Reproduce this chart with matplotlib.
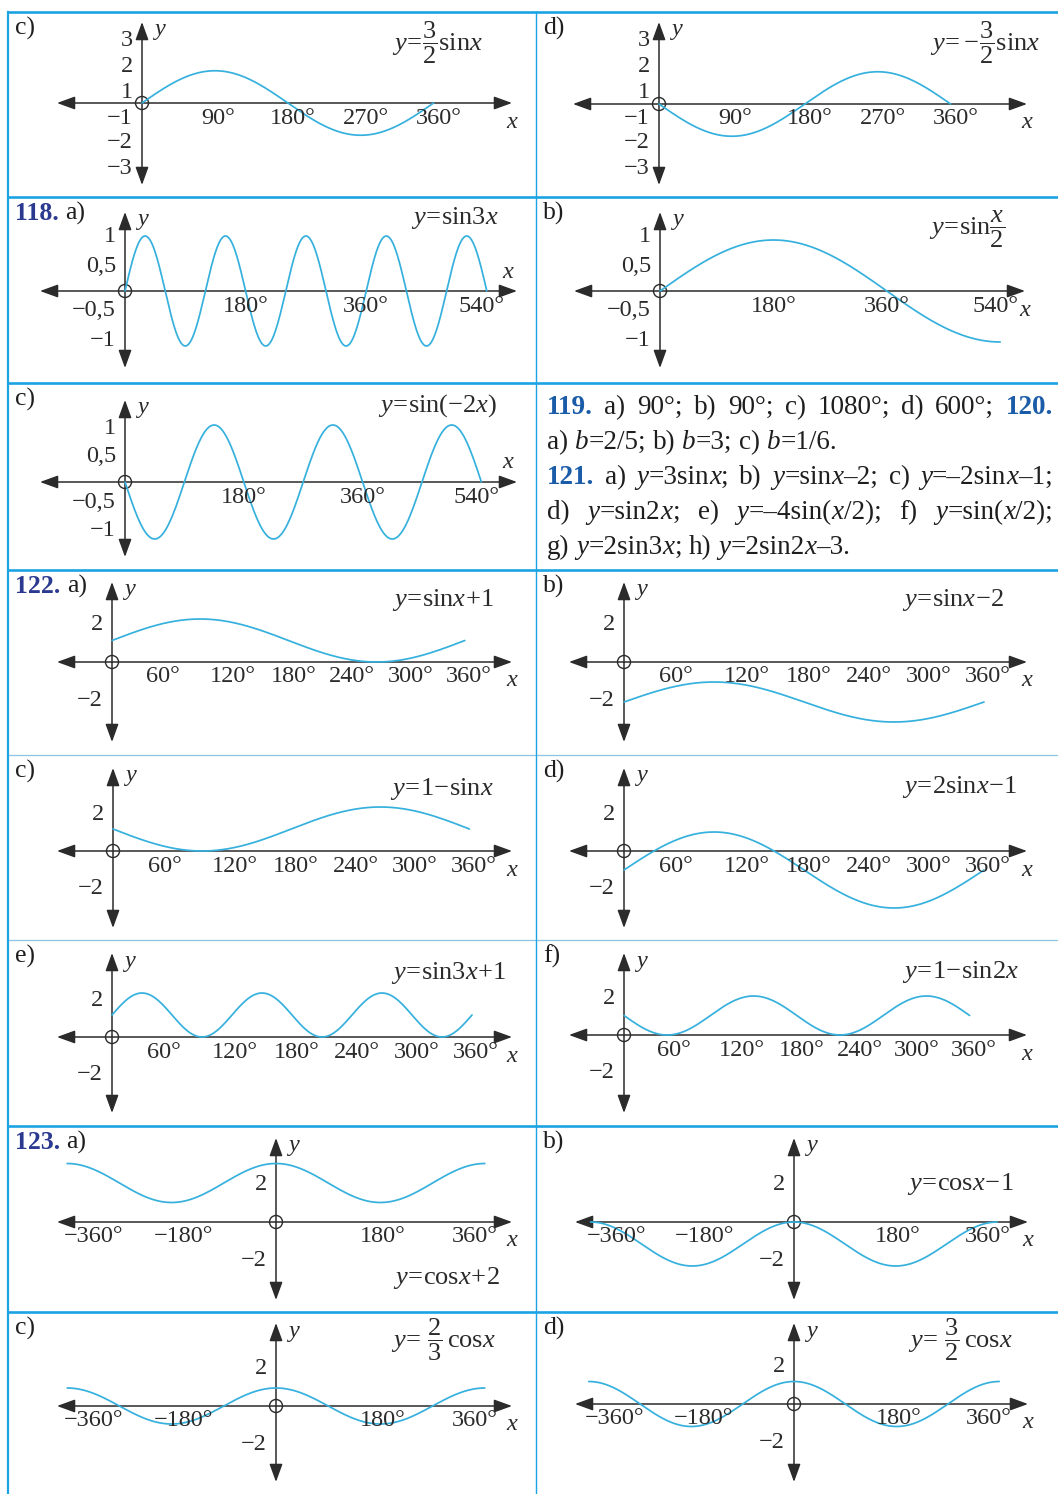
import numpy as np
import matplotlib.pyplot as plt
from matplotlib import transforms as mtransforms
from matplotlib.patches import Circle

plt.rcParams['font.family'] = ['Liberation Serif', 'DejaVu Serif']
plt.rcParams['mathtext.fontset'] = 'custom'
plt.rcParams['mathtext.rm'] = 'Liberation Serif'
plt.rcParams['mathtext.it'] = 'Liberation Serif:italic'
plt.rcParams['mathtext.bf'] = 'Liberation Serif:bold'

W, H = 1058, 1494
BLUE = '#1ca3e2'
THIN = '#8cc4e6'
CURVE = '#36b0dd'
INK = '#2b2b2b'
NAVY = '#2b3990'
TEXT_BLUE = '#1a5ca8'

# ---- data: one entry per graph, left to right, top to bottom ----
numbers = ["", "", "118.", "", "", "122.", "", "", "", "", "", "123.", "", "", ""]
letters = ["c)", "d)", "a)", "b)", "c)", "a)", "b)", "c)", "d)", "e)", "f)", "a)", "b)", "c)", "d)"]
formulas = [
    r'$y\!=\!\dfrac{3}{2}\mathrm{sin}x$',
    r'$y\!=\!-\!\dfrac{3}{2}\mathrm{sin}x$',
    r'$y\!=\!\mathrm{sin}3x$',
    r'$y\!=\!\mathrm{sin}\dfrac{x}{2}$',
    r'$y\!=\!\mathrm{sin}(-2x)$',
    r'$y\!=\!\mathrm{sin}x\!+\!1$',
    r'$y\!=\!\mathrm{sin}x\!-\!2$',
    r'$y\!=\!1\!-\!\mathrm{sin}x$',
    r'$y\!=\!2\mathrm{sin}x\!-\!1$',
    r'$y\!=\!\mathrm{sin}3x\!+\!1$',
    r'$y\!=\!1\!-\!\mathrm{sin}2x$',
    r'$y\!=\!\mathrm{cos}x\!+\!2$',
    r'$y\!=\!\mathrm{cos}x\!-\!1$',
    r'$y\!=\,\dfrac{2}{3}\,\mathrm{cos}x$',
    r'$y\!=\,\dfrac{3}{2}\,\mathrm{cos}x$',
]
kind = ["sin"] * 11 + ["cos"] * 4
amp = [1.5, -1.5, 1, 1, 1, 1, 1, -1, 2, 1, -1, 1, 1, 2 / 3, 1.5]
freq = [1, 1, 3, 0.5, -2, 1, 1, 1, 1, 3, 2, 1, 1, 1, 1]
shift = [0, 0, 0, 0, 0, 1, -2, 1, -1, 1, 1, 2, -1, 0, 0]
x_from = [0] * 11 + [-360] * 4
x_to = [360, 360, 540, 540, 540, 360, 360, 360, 360, 360, 360, 360, 360, 360, 360]

ticks_90 = [90, 180, 270, 360]
ticks_180 = [180, 360, 540]
ticks_60 = [60, 120, 180, 240, 300, 360]
ticks_cos = [-360, -180, 180, 360]
x_ticks = [ticks_90] * 2 + [ticks_180] * 3 + [ticks_60] * 6 + [ticks_cos] * 4
y_ticks_3 = ["3", "2", "1", "−1", "−2", "−3"]
y_ticks_1 = ["1", "0,5", "−0,5", "−1"]
y_ticks_2 = ["2", "−2"]
y_tick_labels = [y_ticks_3] * 2 + [y_ticks_1] * 3 + [y_ticks_2] * 10

answer_lines = [
    [("119.", 'b'), (" a) 90°; b) 90°; c) 1080°; d) 600°; ", 'n'), ("120.", 'b')],
    [("a) ", 'n'), ("b", 'i'), ("=2/5; b) ", 'n'), ("b", 'i'), ("=3; c) ", 'n'),
     ("b", 'i'), ("=1/6.", 'n')],
    [("121.", 'b'), (" a) ", 'n'), ("y", 'i'), ("=3sin", 'n'), ("x", 'i'), ("; b) ", 'n'),
     ("y", 'i'), ("=sin", 'n'), ("x", 'i'), ("–2; c) ", 'n'), ("y", 'i'), ("=–2sin", 'n'),
     ("x", 'i'), ("–1;", 'n')],
    [("d) ", 'n'), ("y", 'i'), ("=sin2", 'n'), ("x", 'i'), ("; e) ", 'n'), ("y", 'i'),
     ("=–4sin(", 'n'), ("x", 'i'), ("/2); f) ", 'n'), ("y", 'i'), ("=sin(", 'n'),
     ("x", 'i'), ("/2);", 'n')],
    [("g) ", 'n'), ("y", 'i'), ("=2sin3", 'n'), ("x", 'i'), ("; h) ", 'n'), ("y", 'i'),
     ("=2sin2", 'n'), ("x", 'i'), ("–3.", 'n')],
]
answer_justify = [True, False, True, True, False]

# ---- layout (pixels) ----
row_top = [12, 197, 383, 570, 755, 940, 1126, 1312, 1494]
col_x = [8, 536, 1058]
cell = [(0, 0), (0, 1), (1, 0), (1, 1), (2, 0), (3, 0), (3, 1), (4, 0), (4, 1),
        (5, 0), (5, 1), (6, 0), (6, 1), (7, 0), (7, 1)]
origin = [(142, 103), (659, 104), (125, 291), (660, 291), (125, 482), (112, 662),
          (624, 662), (113, 851), (624, 851), (112, 1037), (624, 1035), (276, 1222),
          (794, 1222), (276, 1406), (794, 1404)]
px_deg = [0.81, 0.81, 0.67, 0.63, 0.66, 0.98, 1.0, 0.99, 1.0, 1.0, 0.96, 0.58, 0.565, 0.58, 0.57]
px_unit = [21.5, 21.5, 55, 51, 57, 21.5, 20, 22, 19, 22, 19.5, 19.5, 22, 27, 15]
x_tips = [(57, 512), (573, 1027), (40, 517), (574, 1025), (40, 517), (57, 512), (569, 1027),
          (57, 512), (569, 1027), (57, 512), (569, 1027), (57, 512), (575, 1028),
          (57, 512), (575, 1028)]
y_tips = [(22, 185), (212, 368), (400, 557), (582, 742), (768, 928), (953, 1113),
          (1138, 1300), (1323, 1482)]
ylab_off = {6: [-63, -37, -11, 15, 39, 65], 4: [-54, -25, 20, 49], 2: [-37, 38]}
xlab_nudge = {4: [3, 5, 5, 5], 3: [0, 0, -5], 6: [-8, 3, 5, 5, 5, 4]}
cos_nudge = [26, 12, 2, -10]
formula_pos = [(437, 43), (985, 43), (455, 218), (967, 229), (438, 406), (443, 600),
               (953, 600), (442, 789), (960, 787), (449, 973), (960, 972), (446, 1278),
               (960, 1184), (443, 1340), (960, 1340)]

TICK_FS = 17.5
FORMULA_FS = 19
STYLES = {'n': dict(color='#1e1e1e'),
          'i': dict(color='#1e1e1e', style='italic'),
          'b': dict(color=TEXT_BLUE, weight='bold'),
          'nb': dict(color=NAVY, weight='bold')}

fig = plt.figure(figsize=(W / 100, H / 100), dpi=100)
base = fig.add_axes([0, 0, 1, 1])
base.set_xlim(0, W)
base.set_ylim(H, 0)
base.axis('off')
renderer = fig.canvas.get_renderer()


def draw_runs(x, y, runs, size, width=None):
    """Draw mixed-style text pieces one after another on a baseline."""
    pieces = []
    gap = False
    for text, style in runs:
        for j, part in enumerate(text.split(' ')):
            if j > 0:
                gap = True
            if part:
                pieces.append((part, style, gap))
                gap = False
    objs = []
    for part, style, g in pieces:
        t = base.text(0, y, part, fontsize=size, va='baseline', ha='left', **STYLES[style])
        objs.append((t, t.get_window_extent(renderer).width, g))
    space = size * 100 / 72 * 0.25
    n_gaps = sum(1 for k, (_, _, g) in enumerate(objs) if g and k > 0)
    natural = sum(w for _, w, _ in objs) + n_gaps * space
    if width and n_gaps:
        space += (width - natural) / n_gaps
    cur = x
    for k, (t, w, g) in enumerate(objs):
        if g and k > 0:
            cur += space
        t.set_x(cur)
        cur += w


# frame
for yy in row_top[:-1]:
    thin = yy in (755, 940)
    base.plot([col_x[0], W], [yy, yy], color=THIN if thin else BLUE,
              lw=0.9 if thin else 1.9, solid_capstyle='butt')
base.plot([col_x[0], col_x[0]], [row_top[0], H], color=BLUE, lw=1.6)
base.plot([col_x[1], col_x[1]], [row_top[0], H], color=BLUE, lw=1.0)

arrow = dict(arrowstyle='<|-|>,head_length=0.55,head_width=0.2', mutation_scale=20,
             lw=1.1, color=INK, shrinkA=0, shrinkB=0)

for i in range(15):
    r, c = cell[i]
    cx0, cx1 = col_x[c], col_x[c + 1]
    cy0, cy1 = row_top[r], row_top[r + 1]
    ox, oy = origin[i]
    sx, sy = px_deg[i], px_unit[i]

    # coordinate axes with arrowheads on the pixel layer
    xl, xr = x_tips[i]
    yt, yb = y_tips[r]
    base.annotate('', xy=(xr, oy), xytext=(xl, oy), arrowprops=arrow)
    base.annotate('', xy=(ox, yt), xytext=(ox, yb), arrowprops=arrow)
    base.add_patch(Circle((ox, oy), 6.5, fill=False, ec=INK, lw=1.0, zorder=5))
    base.text(ox + 17, yt + 8, 'y', fontsize=TICK_FS, style='italic', color=INK,
              ha='center', va='center')
    if i in (2, 4):
        base.text(xr - 9, oy - 19, 'x', fontsize=TICK_FS, style='italic', color=INK,
                  ha='center', va='center')
    else:
        base.text(xr, oy + 19, 'x', fontsize=TICK_FS, style='italic', color=INK,
                  ha='center', va='center')

    labs = y_tick_labels[i]
    for lab, off in zip(labs, ylab_off[len(labs)]):
        base.text(ox - 9, oy + off, lab, fontsize=TICK_FS, color=INK, ha='right', va='center')

    # panel label
    if numbers[i]:
        runs = [(numbers[i], 'nb'), (' ' + letters[i], 'n')]
    else:
        runs = [(letters[i], 'n')]
    draw_runs(cx0 + 7, cy0 + 23, runs, 18.5)

    base.text(*formula_pos[i], formulas[i], fontsize=FORMULA_FS, color=INK,
              ha='center', va='center')

    # curve on a data axes laid over the cell
    ax = fig.add_axes([cx0 / W, 1 - cy1 / H, (cx1 - cx0) / W, (cy1 - cy0) / H])
    ax.set_xlim((cx0 - ox) / sx, (cx1 - ox) / sx)
    ax.set_ylim((oy - cy1) / sy, (oy - cy0) / sy)
    ax.axis('off')
    ax.patch.set_alpha(0)
    xs = np.linspace(x_from[i], x_to[i], 600)
    func = np.sin if kind[i] == 'sin' else np.cos
    ys = amp[i] * func(np.radians(freq[i] * xs)) + shift[i]
    ax.plot(xs, ys, color=CURVE, lw=1.25, solid_capstyle='round', zorder=3)

    nudges = cos_nudge if kind[i] == 'cos' else xlab_nudge[len(x_ticks[i])]
    for v, dx in zip(x_ticks[i], nudges):
        tr = mtransforms.offset_copy(ax.transData, fig=fig, x=dx, y=-15, units='dots')
        ax.text(v, 0, f"{v}°".replace('-', '−'), transform=tr, fontsize=TICK_FS,
                color=INK, ha='center', va='center')

# answers block
for k, runs in enumerate(answer_lines):
    draw_runs(547, 414 + 35 * k, runs, 19.5, width=506 if answer_justify[k] else None)

fig.savefig('out.png', dpi=100)
